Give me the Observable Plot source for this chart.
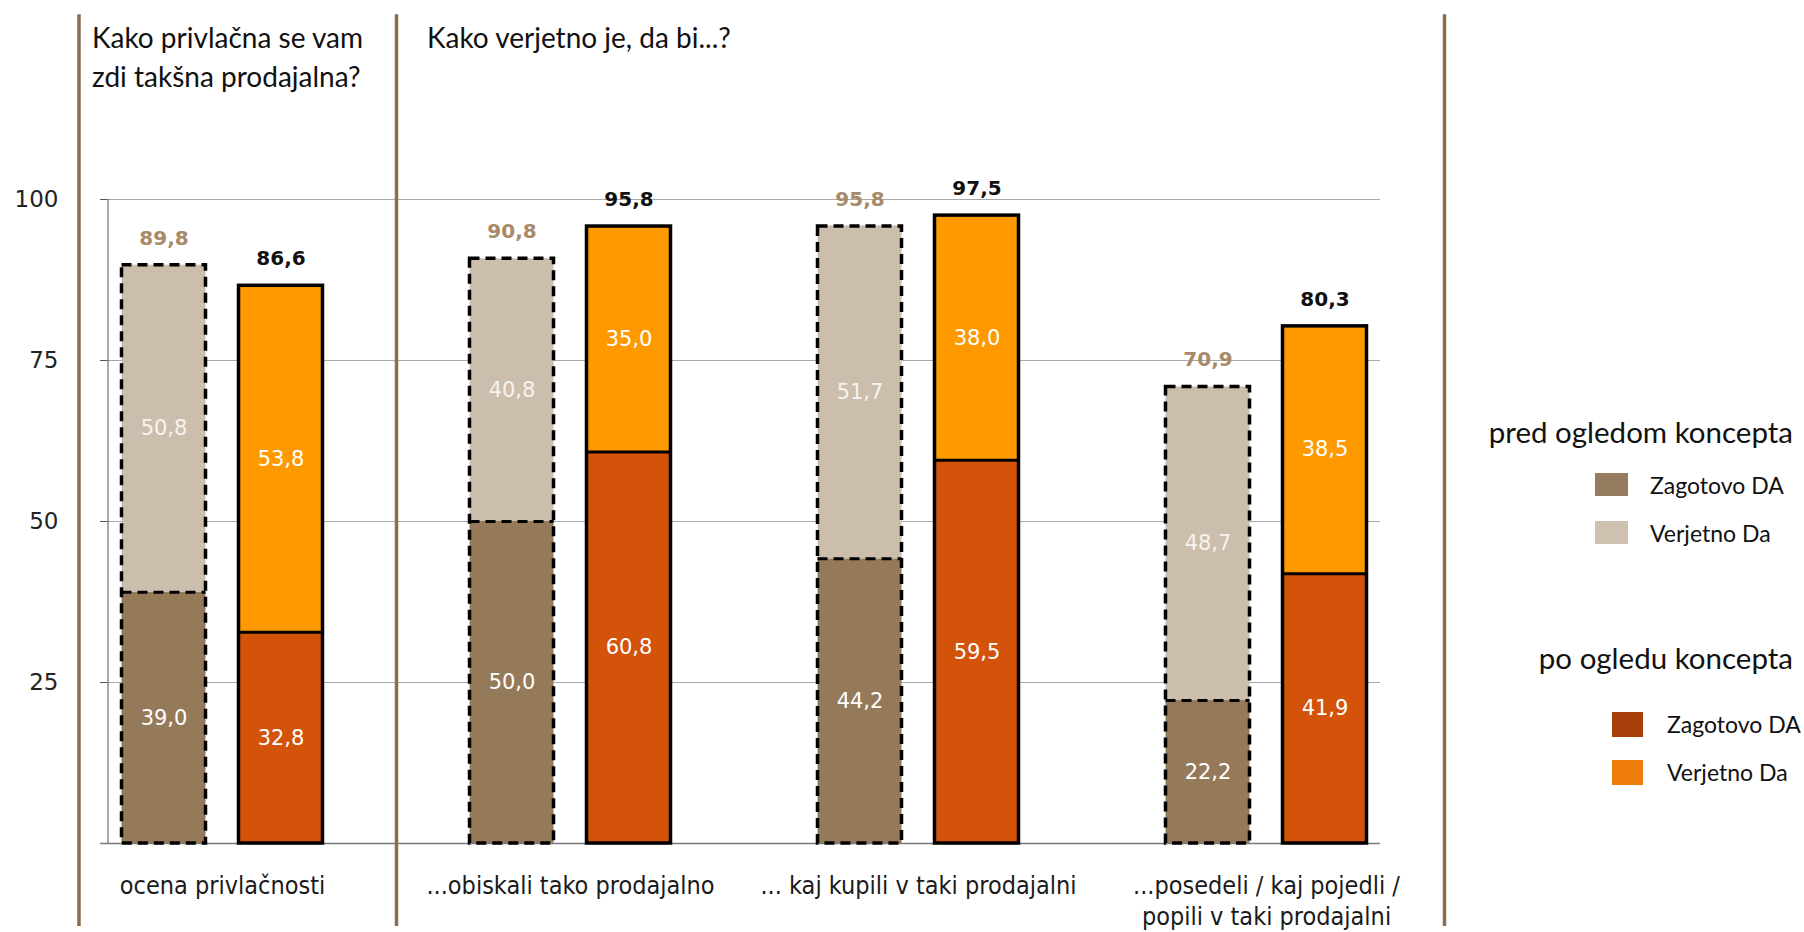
<!DOCTYPE html>
<html>
<head>
<meta charset="utf-8">
<script src="https://cdn.jsdelivr.net/npm/d3@7"></script>
<script src="https://cdn.jsdelivr.net/npm/@observablehq/plot@0.6"></script>
<style>
  html, body { margin: 0; padding: 0; background: #fff; }
  #wrap { position: relative; width: 1804px; height: 932px; overflow: hidden; }
  #chart { position: absolute; left: 0; top: 0; }
  .t { position: absolute; font-family: Lato, "Open Sans", sans-serif; color: #111; white-space: nowrap; }
  .title { font-size: 28px; line-height: 39px; top: 18px; }
  .lh { font-size: 29.5px; line-height: 34px; right: 11px; }
  .li { font-size: 23px; line-height: 26px; }
  .sw { position: absolute; }
</style>
</head>
<body>
<div id="wrap">
  <div id="chart"></div>
  <div class="t title" style="left:92px">Kako privlačna se vam<br>zdi takšna prodajalna?</div>
  <div class="t title" style="left:427px">Kako verjetno je, da bi...?</div>

  <div class="t lh" style="top:415px">pred ogledom koncepta</div>
  <div class="sw" style="left:1595px;top:473px;width:33px;height:23px;background:#967c5e"></div>
  <div class="t li" style="left:1650px;top:472px">Zagotovo DA</div>
  <div class="sw" style="left:1595px;top:521px;width:33px;height:23px;background:#cfc1b0"></div>
  <div class="t li" style="left:1650px;top:520px">Verjetno Da</div>

  <div class="t lh" style="top:641px">po ogledu koncepta</div>
  <div class="sw" style="left:1612px;top:712px;width:31px;height:25px;background:#a63f0c"></div>
  <div class="t li" style="left:1667px;top:711px">Zagotovo DA</div>
  <div class="sw" style="left:1612px;top:760px;width:31px;height:25px;background:#ef7d0b"></div>
  <div class="t li" style="left:1667px;top:759px">Verjetno Da</div>
</div>
<script>
// ---- data ----
const categories = ["ocena", "obiskali", "kupili", "posedeli"];
const tickLabels = ["ocena privlačnosti", "...obiskali tako prodajalno", "... kaj kupili v taki prodajalni", "...posedeli / kaj pojedli /\npopili v taki prodajalni"];
const predZagotovo = [39.0, 50.0, 44.2, 22.2];
const predVerjetno = [50.8, 40.8, 51.7, 48.7];
const predTotal = [89.8, 90.8, 95.8, 70.9];
const poZagotovo = [32.8, 60.8, 59.5, 41.9];
const poVerjetno = [53.8, 35.0, 38.0, 38.5];
const poTotal = [86.6, 95.8, 97.5, 80.3];
const yTicks = [25, 50, 75, 100];

const pred = categories.map((c, i) => ({cat: c, zag: predZagotovo[i], ver: predVerjetno[i], total: predTotal[i]}));
const po = categories.map((c, i) => ({cat: c, zag: poZagotovo[i], ver: poVerjetno[i], total: poTotal[i]}));

const fmt = v => d3.format(".1f")(v).replace(".", ",");
const numFont = "'DejaVu Sans', Verdana, sans-serif";
const catFont = "'Liberation Sans Narrow', 'DejaVu Sans Condensed', 'Roboto', sans-serif";

const predIn = {insetLeft: 73.5, insetRight: 190.5};
const poIn = {insetLeft: 190.5, insetRight: 73.5};
const sepStyle = {y1: -12.9, y2: 128.7, stroke: "#8b6e50", strokeWidth: 3.5};

const chart = Plot.plot({
  width: 1804,
  height: 932,
  marginTop: 199,
  marginBottom: 89,
  marginLeft: 107,
  marginRight: 424,
  style: {fontFamily: numFont, background: "transparent"},
  x: {type: "band", domain: categories, range: [47.5, 1439.5], paddingInner: 0, paddingOuter: 0, label: null},
  y: {domain: [0, 100], label: null},
  marks: [
    Plot.gridY(yTicks, {stroke: "#a8a8a8", strokeOpacity: 1, strokeWidth: 1}),
    Plot.ruleY([0], {stroke: "#7a7a7a", strokeWidth: 1.5, insetLeft: -7}),
    Plot.ruleX([categories[0]], {x: d => d, y1: 0, y2: 100, dx: -114.5, stroke: "#555", strokeWidth: 1}),
    Plot.axisY({ticks: yTicks, tickSize: 7, tickPadding: 42, fontSize: 23, fill: "#222", stroke: "#555", tickFormat: d => d, label: null}),
    Plot.axisX({tickSize: 0, tickPadding: 29, fontSize: 25, fontFamily: catFont, fill: "#1a1a1a", lineHeight: 1.22, label: null,
      tickFormat: d => tickLabels[categories.indexOf(d)]}),
    // separators
    Plot.ruleX([categories[0]], {x: d => d, dx: -143.5, ...sepStyle}),
    Plot.ruleX([categories[0]], {x: d => d, dx: 174, ...sepStyle}),
    Plot.ruleX([categories[3]], {x: d => d, dx: 178, ...sepStyle}),
    // pred bars
    Plot.barY(pred, {x: "cat", y1: 0, y2: "zag", fill: "#957a5a", ...predIn}),
    Plot.barY(pred, {x: "cat", y1: "zag", y2: d => d.zag + d.ver, fill: "#cbbeac", ...predIn}),
    Plot.tickY(pred, {x: "cat", y: "zag", stroke: "black", strokeWidth: 3, strokeDasharray: "10,6", ...predIn}),
    Plot.barY(pred, {x: "cat", y1: 0, y2: "total", fill: "none", stroke: "black", strokeWidth: 3.5, strokeDasharray: "10,6", ...predIn}),
    // po bars
    Plot.barY(po, {x: "cat", y1: 0, y2: "zag", fill: "#d4530b", ...poIn}),
    Plot.barY(po, {x: "cat", y1: "zag", y2: d => d.zag + d.ver, fill: "#fe9a00", ...poIn}),
    Plot.tickY(po, {x: "cat", y: "zag", stroke: "black", strokeWidth: 3, ...poIn}),
    Plot.barY(po, {x: "cat", y1: 0, y2: "total", fill: "none", stroke: "black", strokeWidth: 3.5, ...poIn}),
    // inner labels
    Plot.text(pred, {x: "cat", y: d => d.zag / 2, text: d => fmt(d.zag), dx: -58.5, fill: "white", fontSize: 21}),
    Plot.text(pred, {x: "cat", y: d => d.zag + d.ver / 2, text: d => fmt(d.ver), dx: -58.5, fill: "#f7f3ee", fontSize: 21}),
    Plot.text(po, {x: "cat", y: d => d.zag / 2, text: d => fmt(d.zag), dx: 58.5, fill: "white", fontSize: 21}),
    Plot.text(po, {x: "cat", y: d => d.zag + d.ver / 2, text: d => fmt(d.ver), dx: 58.5, fill: "white", fontSize: 21}),
    // totals
    Plot.text(pred, {x: "cat", y: "total", text: d => fmt(d.total), dx: -58.5, dy: -27, fill: "#a88a68", fontSize: 20, fontWeight: "bold"}),
    Plot.text(po, {x: "cat", y: "total", text: d => fmt(d.total), dx: 58.5, dy: -27, fill: "#111", fontSize: 20, fontWeight: "bold"})
  ]
});
document.getElementById("chart").appendChild(chart);
</script>
</body>
</html>
